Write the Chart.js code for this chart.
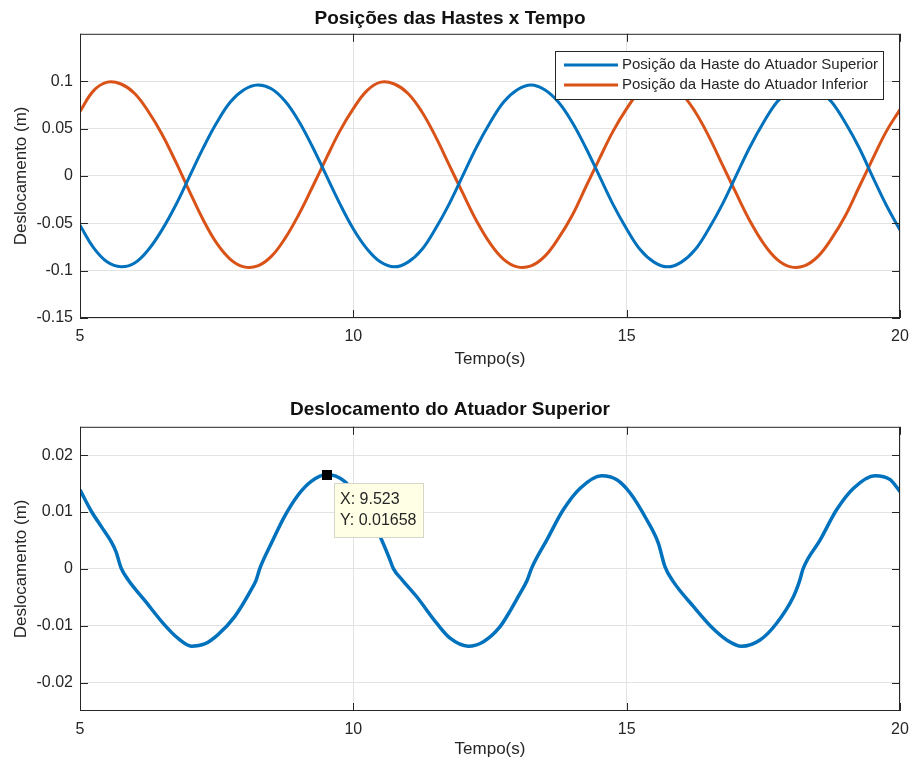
<!DOCTYPE html>
<html>
<head>
<meta charset="utf-8">
<script src="https://cdn.jsdelivr.net/npm/chart.js@4.4.1/dist/chart.umd.min.js"></script>
<style>
  html, body { margin: 0; padding: 0; background: #fff; }
  #wrap { position: relative; width: 910px; height: 765px; }
  #hastes { position: absolute; left: 0; top: 0; }
  #atuador { position: absolute; left: 0; top: 382px; }
</style>
</head>
<body>
<div id="wrap">
  <canvas id="hastes" width="910" height="382"></canvas>
  <canvas id="atuador" width="910" height="383"></canvas>
</div>
<script>
//----- DADOS -----//
// grafico de cima: posicoes das hastes (amostras a cada 0.25 s)
const tempoHastes = [
  5.00, 5.25, 5.50, 5.75, 6.00, 6.25, 6.50, 6.75, 7.00, 7.25,
  7.50, 7.75, 8.00, 8.25, 8.50, 8.75, 9.00, 9.25, 9.50, 9.75,
  10.00, 10.25, 10.50, 10.75, 11.00, 11.25, 11.50, 11.75, 12.00, 12.25,
  12.50, 12.75, 13.00, 13.25, 13.50, 13.75, 14.00, 14.25, 14.50, 14.75,
  15.00, 15.25, 15.50, 15.75, 16.00, 16.25, 16.50, 16.75, 17.00, 17.25,
  17.50, 17.75, 18.00, 18.25, 18.50, 18.75, 19.00, 19.25, 19.50, 19.75,
  20.00
];
const hasteSuperior = [
  -0.052, -0.076, -0.091, -0.096, -0.092, -0.078, -0.057, -0.031, -0.001, 0.029,
  0.056, 0.078, 0.091, 0.096, 0.092, 0.079, 0.058, 0.031, 0.001, -0.029,
  -0.056, -0.077, -0.091, -0.096, -0.091, -0.078, -0.056, -0.030, 0.000, 0.030,
  0.056, 0.078, 0.091, 0.096, 0.091, 0.078, 0.057, 0.030, 0.000, -0.030,
  -0.056, -0.078, -0.091, -0.096, -0.091, -0.078, -0.056, -0.030, 0.000, 0.030,
  0.056, 0.078, 0.091, 0.096, 0.091, 0.078, 0.056, 0.030, -0.001, -0.031,
  -0.057
];
const hasteInferior = [
  0.068, 0.090, 0.099, 0.097, 0.087, 0.068, 0.044, 0.015, -0.016, -0.046,
  -0.071, -0.088, -0.096, -0.095, -0.085, -0.066, -0.041, -0.012, 0.018, 0.047,
  0.071, 0.090, 0.099, 0.097, 0.087, 0.068, 0.042, 0.012, -0.018, -0.047,
  -0.071, -0.088, -0.096, -0.095, -0.085, -0.066, -0.042, -0.012, 0.018, 0.047,
  0.071, 0.090, 0.099, 0.097, 0.087, 0.068, 0.042, 0.012, -0.018, -0.047,
  -0.071, -0.088, -0.096, -0.095, -0.085, -0.066, -0.042, -0.012, 0.018, 0.047,
  0.070
];

// grafico de baixo: deslocamento do atuador superior
const tempoAtuador = [
  5.00, 5.21, 5.40, 5.57, 5.66, 5.75, 5.88, 6.18, 6.55, 6.79,
  7.04, 7.28, 7.52, 7.83, 8.13, 8.22, 8.29, 8.50, 8.74, 8.99,
  9.23, 9.52, 9.84, 10.05, 10.28, 10.49, 10.67, 10.73, 10.90, 11.16,
  11.52, 11.77, 12.10, 12.38, 12.68, 12.88, 13.05, 13.18, 13.26, 13.54,
  13.84, 14.15, 14.54, 14.82, 15.06, 15.37, 15.58, 15.70, 15.85, 16.22,
  16.58, 16.83, 17.10, 17.44, 17.74, 18.05, 18.16, 18.23, 18.54, 18.84,
  19.15, 19.54, 19.82, 20.00
];
const deslocAtuador = [
  0.0139, 0.0101, 0.0073, 0.0048, 0.0030, 0.0002, -0.0019, -0.0055, -0.0099, -0.0122,
  -0.0136, -0.0132, -0.0116, -0.0084, -0.0037, -0.0020, 0.0001, 0.0045, 0.0092, 0.0130,
  0.0154, 0.0166, 0.0154, 0.0130, 0.0095, 0.0057, 0.0016, 0.0001, -0.0020, -0.0049,
  -0.0095, -0.0122, -0.0136, -0.0128, -0.0102, -0.0072, -0.0043, -0.0020, 0.0001, 0.0051,
  0.0104, 0.0142, 0.0164, 0.0157, 0.0134, 0.0086, 0.0045, 0.0004, -0.0022, -0.0066,
  -0.0105, -0.0125, -0.0136, -0.0125, -0.0096, -0.0049, -0.0022, 0.0001, 0.0051, 0.0104,
  0.0142, 0.0164, 0.0157, 0.0136
];

// marcador (data tip)
const dicaX = 9.523;
const dicaY = 0.01658;

// ticks
const ticksTempo = [5, 10, 15, 20];
const ticksHastes = [-0.15, -0.1, -0.05, 0, 0.05, 0.1];
const ticksAtuador = [-0.02, -0.01, 0, 0.01, 0.02];

//----- ESTILO -----//
const fonte = '"Liberation Sans", Arial, Helvetica, sans-serif';
const azul = '#0072BD';
const laranja = '#D95319';
const texto = '#262626';

Chart.defaults.font.family = fonte;
Chart.defaults.color = texto;

function pontos(xs, ys) {
  return xs.map((x, i) => ({ x: x, y: ys[i] }));
}

function rotulo(v) {
  const r = Math.round(v * 10000) / 10000;
  return String(r === 0 ? 0 : r);
}

// moldura com ticks para dentro (estilo matlab)
const moldura = {
  id: 'moldura',
  afterDraw(chart) {
    const { ctx, chartArea: a, scales } = chart;
    const sx = scales.x, sy = scales.y;
    ctx.save();
    ctx.strokeStyle = texto;
    ctx.lineWidth = 1;
    ctx.strokeRect(a.left + 0.5, a.top + 0.5, a.width - 1, a.height - 1);
    ctx.beginPath();
    sx.ticks.forEach(t => {
      const px = Math.round(sx.getPixelForValue(t.value)) + 0.5;
      ctx.moveTo(px, a.bottom); ctx.lineTo(px, a.bottom - 8);
      ctx.moveTo(px, a.top); ctx.lineTo(px, a.top + 8);
    });
    sy.ticks.forEach(t => {
      const py = Math.round(sy.getPixelForValue(t.value)) + 0.5;
      ctx.moveTo(a.left, py); ctx.lineTo(a.left + 8, py);
      ctx.moveTo(a.right, py); ctx.lineTo(a.right - 8, py);
    });
    ctx.stroke();
    ctx.restore();
  }
};

// legenda dentro da area do grafico
const legendaCaixa = {
  id: 'legendaCaixa',
  afterDatasetsDraw(chart) {
    const { ctx, chartArea: a } = chart;
    const sets = chart.data.datasets;
    ctx.save();
    ctx.font = '15px ' + fonte;
    let larg = 0;
    sets.forEach(d => { larg = Math.max(larg, ctx.measureText(d.label).width); });
    const w = Math.round(67 + larg + 5);
    const h = 48;
    const x0 = Math.round(a.right - 17 - w);
    const y0 = Math.round(a.top + 17);
    ctx.fillStyle = '#fff';
    ctx.fillRect(x0, y0, w, h);
    ctx.strokeStyle = texto;
    ctx.lineWidth = 1;
    ctx.strokeRect(x0 + 0.5, y0 + 0.5, w, h);
    sets.forEach((d, i) => {
      const yy = y0 + 14 + i * 20;
      ctx.strokeStyle = d.borderColor;
      ctx.lineWidth = 3;
      ctx.beginPath();
      ctx.moveTo(x0 + 9, yy); ctx.lineTo(x0 + 63, yy);
      ctx.stroke();
      ctx.fillStyle = texto;
      ctx.textBaseline = 'middle';
      ctx.fillText(d.label, x0 + 67, yy);
    });
    ctx.restore();
  }
};

// data tip do grafico de baixo
const dica = {
  id: 'dica',
  afterDatasetsDraw(chart) {
    const { ctx, scales } = chart;
    const px = scales.x.getPixelForValue(dicaX);
    const py = scales.y.getPixelForValue(dicaY);
    const l1 = 'X: ' + dicaX;
    const l2 = 'Y: ' + dicaY;
    ctx.save();
    ctx.font = '16px ' + fonte;
    const w = Math.round(Math.max(ctx.measureText(l1).width, ctx.measureText(l2).width) + 12);
    const bx = Math.round(px + 7), by = Math.round(py + 8);
    ctx.fillStyle = '#ffffe6';
    ctx.fillRect(bx, by, w, 54);
    ctx.strokeStyle = '#d6d6c8';
    ctx.lineWidth = 1;
    ctx.strokeRect(bx + 0.5, by + 0.5, w, 54);
    ctx.fillStyle = texto;
    ctx.textBaseline = 'middle';
    ctx.fillText(l1, bx + 6, by + 17);
    ctx.fillText(l2, bx + 6, by + 38);
    ctx.fillStyle = '#000';
    ctx.fillRect(Math.round(px) - 5, Math.round(py) - 5, 10, 10);
    ctx.restore();
  }
};

function eixos(yMin, yMax, yTicks, cfgX) {
  return {
    x: {
      type: 'linear',
      min: 5, max: 20,
      afterBuildTicks: s => { s.ticks = ticksTempo.map(v => ({ value: v })); },
      afterFit: s => { s.height = cfgX.altura; },
      grid: { color: '#e3e3e3', drawTicks: true, tickLength: 9, tickColor: 'rgba(0,0,0,0)' },
      border: { display: false },
      ticks: { padding: 0, font: { size: 16 }, color: texto, callback: v => String(v), maxRotation: 0 },
      title: { display: true, text: 'Tempo(s)', font: { size: 17 }, color: texto, padding: { top: 0, bottom: cfgX.pad } }
    },
    y: {
      min: yMin, max: yMax,
      afterBuildTicks: s => { s.ticks = yTicks.map(v => ({ value: v })); },
      afterFit: s => { s.width = 80; },
      grid: { color: '#e3e3e3', drawTicks: false },
      border: { display: false },
      ticks: { padding: 7, font: { size: 16 }, color: texto, callback: v => rotulo(v) },
      title: { display: true, text: 'Deslocamento (m)', font: { size: 17 }, color: texto, padding: { top: 11, bottom: 0 } }
    }
  };
}

//----- GRAFICO 1 -----//
const hastes = new Chart(document.getElementById('hastes'), {
  type: 'line',
  data: {
    datasets: [{
      label: 'Posição da Haste do Atuador Superior',
      data: pontos(tempoHastes, hasteSuperior),
      borderColor: azul,
      borderWidth: 3,
      pointRadius: 0,
      tension: 0.4
    }, {
      label: 'Posição da Haste do Atuador Inferior',
      data: pontos(tempoHastes, hasteInferior),
      borderColor: laranja,
      borderWidth: 3,
      pointRadius: 0,
      tension: 0.4
    }]
  },
  options: {
    responsive: false,
    animation: false,
    layout: { padding: { left: 0, right: 10, top: 0, bottom: 0 } },
    plugins: {
      legend: { display: false },
      tooltip: { enabled: false },
      title: {
        display: true,
        text: 'Posições das Hastes x Tempo',
        font: { size: 19, weight: 'bold' },
        color: '#111',
        padding: { top: 7, bottom: 4 }
      }
    },
    scales: eixos(-0.15, 0.15, ticksHastes, { altura: 64, pad: 12 })
  },
  plugins: [legendaCaixa, moldura]
});

//----- GRAFICO 2 -----//
const atuador = new Chart(document.getElementById('atuador'), {
  type: 'line',
  data: {
    datasets: [{
      label: 'Deslocamento do Atuador Superior',
      data: pontos(tempoAtuador, deslocAtuador),
      borderColor: azul,
      borderWidth: 3.5,
      pointRadius: 0,
      cubicInterpolationMode: 'monotone'
    }]
  },
  options: {
    responsive: false,
    animation: false,
    layout: { padding: { left: 0, right: 10, top: 0, bottom: 0 } },
    plugins: {
      legend: { display: false },
      tooltip: { enabled: false },
      title: {
        display: true,
        text: 'Deslocamento do Atuador Superior',
        font: { size: 19, weight: 'bold' },
        color: '#111',
        padding: { top: 16, bottom: 6 }
      }
    },
    scales: eixos(-0.025, 0.025, ticksAtuador, { altura: 54, pad: 5 })
  },
  plugins: [dica, moldura]
});
</script>
</body>
</html>
